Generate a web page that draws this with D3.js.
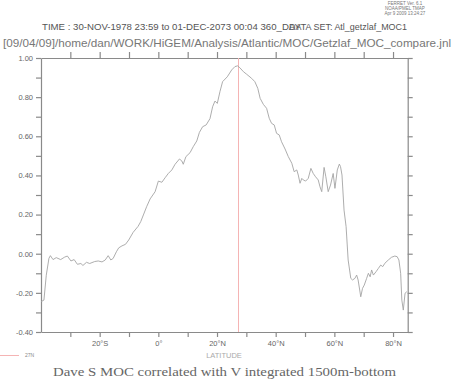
<!DOCTYPE html>
<html>
<head>
<meta charset="utf-8">
<script src="https://cdn.jsdelivr.net/npm/d3@7.9.0/dist/d3.min.js"></script>
<style>
  body { margin: 0; background: #fff; }
  svg { display: block; font-family: "Liberation Sans", Arial, sans-serif; }
  .axis text { fill: #666; font-size: 7.5px; }
  .axis path, .axis line { stroke: #8a8a8a; stroke-width: 1.2; }
</style>
</head>
<body>
<svg width="455" height="379"></svg>
<script>
// latitude (deg, negative = south) and correlation
const lat = [-40.0, -39.0, -38.2, -37.3, -36.8, -35.9, -34.8, -33.3, -31.9, -31.0,
  -29.8, -28.7, -27.6, -26.4, -25.7, -24.5, -23.4, -21.7, -20.5, -19.2,
  -18.1, -17.1, -16.2, -15.4, -14.3, -13.5, -12.4, -11.2, -10.1, -8.6,
  -6.9, -6.0, -5.1, -4.0, -2.8, -1.1, 0.0, 1.2, 2.3, 3.4,
  4.6, 5.7, 7.2, 8.0, 8.5, 9.4, 10.8, 11.9, 13.1, 14.0,
  15.1, 16.3, 17.6, 18.5, 19.3, 20.1, 21.0, 21.9, 23.5, 25.0,
  26.1, 27.0, 27.8, 29.0, 30.1, 31.8, 32.9, 33.9, 34.7, 35.8,
  36.9, 37.8, 38.6, 39.5, 40.3, 41.2, 42.0, 43.2, 44.3, 45.5,
  46.3, 47.2, 47.7, 48.3, 48.9, 49.4, 50.2, 51.1, 52.0, 52.8,
  53.6, 54.5, 55.1, 55.7, 56.5, 57.1, 57.9, 58.7, 59.6, 60.2,
  61.0, 61.7, 62.1, 62.6, 63.3, 64.0, 64.7, 65.6, 66.2, 67.0,
  67.6, 68.1, 69.0, 69.6, 70.2, 71.0, 71.6, 72.2, 72.7, 73.3,
  74.2, 75.0, 75.8, 76.5, 77.2, 78.4, 79.5, 80.6, 81.4, 82.0,
  82.6, 83.0, 83.5, 84.1, 84.7];
const corr = [-0.245, -0.237, -0.11, -0.024, -0.01, -0.03, -0.02, -0.03, -0.017, -0.012,
  -0.037, -0.03, -0.054, -0.05, -0.06, -0.044, -0.05, -0.04, -0.037, -0.042,
  -0.032, -0.01, -0.032, -0.024, 0.01, 0.03, 0.04, 0.048, 0.07, 0.109,
  0.14, 0.164, 0.198, 0.24, 0.28, 0.317, 0.371, 0.365, 0.388, 0.41,
  0.428, 0.457, 0.484, 0.474, 0.457, 0.496, 0.516, 0.547, 0.576, 0.62,
  0.649, 0.658, 0.69, 0.751, 0.78, 0.768, 0.828, 0.879, 0.904, 0.939,
  0.956, 0.96, 0.95, 0.93, 0.917, 0.896, 0.879, 0.845, 0.794, 0.763,
  0.743, 0.692, 0.666, 0.658, 0.615, 0.607, 0.572, 0.535, 0.496, 0.462,
  0.419, 0.428, 0.402, 0.36, 0.385, 0.377, 0.371, 0.385, 0.436, 0.41,
  0.393, 0.377, 0.342, 0.317, 0.441, 0.393, 0.317, 0.351, 0.41, 0.334,
  0.428, 0.458, 0.445, 0.402, 0.223, 0.138, -0.032, -0.126, -0.134, -0.126,
  -0.109, -0.134, -0.22, -0.177, -0.16, -0.126, -0.1, -0.118, -0.083, -0.109,
  -0.092, -0.075, -0.058, -0.066, -0.049, -0.032, -0.018, -0.012, -0.015, -0.032,
  -0.1, -0.237, -0.288, -0.202, -0.194];

const xTicks = [-30, -20, -10, 0, 10, 20, 30, 40, 50, 60, 70, 80];
const yTicks = [-0.4, -0.3, -0.2, -0.1, 0.0, 0.1, 0.2, 0.3, 0.4, 0.5, 0.6, 0.7, 0.8, 0.9, 1.0];
const markLat = [27];
const markLabel = ['27N'];

const headerSmall = ['FERRET Ver. 6.1', 'NOAA/PMEL TMAP', 'Apr  9 2009 13:24:27'];
const timeLine = 'TIME : 30-NOV-1978 23:59 to 01-DEC-2073 00:04 360_DAY';
const dataLine = 'DATA SET: Atl_getzlaf_MOC1';
const pathLine = '[09/04/09]/home/dan/WORK/HiGEM/Analysis/Atlantic/MOC/Getzlaf_MOC_compare.jnl';
const xLabel = 'LATITUDE';
const title = 'Dave S MOC correlated with V integrated 1500m-bottom';

const svg = d3.select('svg');
const x = d3.scaleLinear().domain([-40, 85]).range([41, 407.7]);
const y = d3.scaleLinear().domain([-0.4, 1.0]).range([332, 58]);
const pink = '#f5b4b4';

function latFmt(d) {
    if (d % 20 !== 0) return '';
    if (d === 0) return '0°';
    return Math.abs(d) + (d < 0 ? '°S' : '°N');
}
function yFmt(d) {
    const r = Math.round(d * 10);
    if (r % 2 !== 0) return '';
    return d3.format('.2f')(d).replace('−', '-');
}

svg.append('g').attr('class', 'axis')
   .attr('transform', `translate(0,${y(-0.4)})`)
   .call(d3.axisBottom(x).tickValues(xTicks).tickFormat(latFmt).tickSize(5).tickSizeOuter(0).tickPadding(4));
svg.append('g').attr('class', 'axis')
   .attr('transform', `translate(0,${y(1.0)})`)
   .call(d3.axisTop(x).tickValues(xTicks).tickFormat('').tickSize(6).tickSizeOuter(0));
svg.append('g').attr('class', 'axis')
   .attr('transform', `translate(${x(-40)},0)`)
   .call(d3.axisLeft(y).tickValues(yTicks).tickFormat(yFmt).tickSize(5).tickSizeOuter(0).tickPadding(3));
svg.append('g').attr('class', 'axis')
   .attr('transform', `translate(${x(85)},0)`)
   .call(d3.axisRight(y).tickValues(yTicks).tickFormat('').tickSize(5).tickSizeOuter(0));

// 27N marker line, snapped to a pixel
svg.selectAll('.mark').data(markLat).enter().append('line')
   .attr('x1', d => Math.round(x(d)) + 0.5).attr('x2', d => Math.round(x(d)) + 0.5)
   .attr('y1', y(1.0)).attr('y2', y(-0.4))
   .attr('stroke', pink).attr('stroke-width', 1);

const line = d3.line().x(d => x(d[0])).y(d => y(d[1]));
svg.append('path')
   .datum(d3.zip(lat, corr))
   .attr('d', line)
   .attr('fill', 'none')
   .attr('stroke', '#a4a4a4')
   .attr('stroke-width', 0.9);

// header
svg.selectAll('.hdr').data(headerSmall).enter().append('text')
   .attr('x', 405).attr('y', (d, i) => 5 + i * 5)
   .attr('text-anchor', 'middle')
   .attr('font-size', 4.5).attr('fill', '#777').text(d => d);
svg.append('text').attr('x', 42).attr('y', 30)
   .attr('font-size', 9).attr('fill', '#555')
   .attr('textLength', 259).attr('lengthAdjust', 'spacingAndGlyphs').text(timeLine);
svg.append('text').attr('x', 289).attr('y', 30)
   .attr('font-size', 9).attr('fill', '#555')
   .attr('textLength', 118).attr('lengthAdjust', 'spacingAndGlyphs').text(dataLine);
svg.append('text').attr('x', 3).attr('y', 47)
   .attr('font-size', 11).attr('fill', '#777')
   .attr('textLength', 448).attr('lengthAdjust', 'spacingAndGlyphs').text(pathLine);

// legend
svg.append('line').attr('x1', 0).attr('x2', 19).attr('y1', 355.5).attr('y2', 355.5)
   .attr('stroke', pink).attr('stroke-width', 1);
svg.append('text').attr('x', 25).attr('y', 357)
   .attr('font-size', 5).attr('fill', '#888').text(markLabel[0]);

svg.append('text').attr('x', 224).attr('y', 358)
   .attr('text-anchor', 'middle').attr('font-size', 7.5).attr('fill', '#aaa').text(xLabel);

svg.append('text').attr('x', 53).attr('y', 376)
   .attr('font-family', '"Liberation Serif", "DejaVu Serif", serif')
   .attr('font-size', 12).attr('fill', '#666')
   .attr('textLength', 343).attr('lengthAdjust', 'spacingAndGlyphs').text(title);
</script>
</body>
</html>
